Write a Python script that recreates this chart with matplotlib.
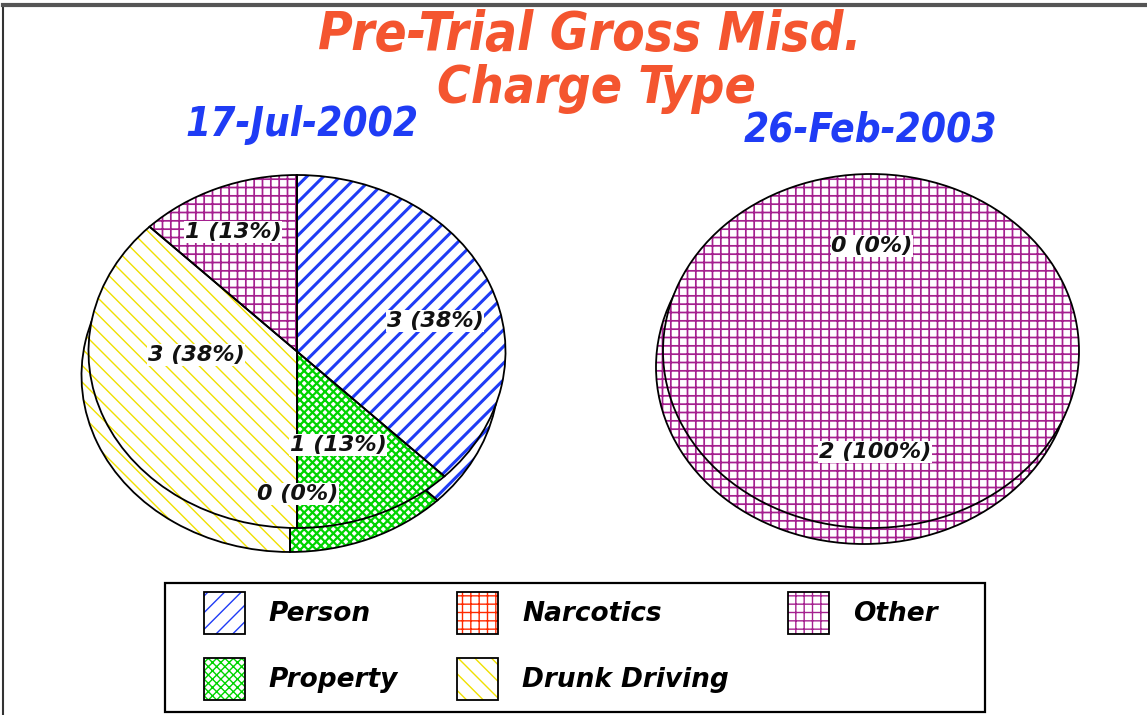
import matplotlib
matplotlib.use('Agg')
import matplotlib.pyplot as plt
from matplotlib.patches import Patch, Rectangle
from matplotlib.lines import Line2D
from matplotlib import font_manager
from matplotlib.font_manager import FontProperties

W, H = 1147, 715

# ---------------- data ----------------
title_lines = ['Pre-Trial Gross Misd.', 'Charge Type']
dates = ['17-Jul-2002', '26-Feb-2003']
categories = ['Person', 'Property', 'Narcotics', 'Drunk Driving', 'Other']
counts_2002 = [3, 1, 0, 3, 1]
counts_2003 = [0, 0, 0, 0, 2]

# ---------------- style ----------------
colors = ['#1f3cf5', '#00d400', '#ff2a00', '#f0e000', '#a5208f']
hatches = ['//', 'xxxx', '++', '\\\\', '++']
hatch_lws = [2.2, 1.6, 2.2, 1.0, 1.25]

names = {f.name for f in font_manager.fontManager.ttflist}
if 'Liberation Sans Narrow' in names:
    cond = dict(family='Liberation Sans Narrow', stretch='normal')
else:
    cond = dict(family='DejaVu Sans', stretch='condensed')

fig = plt.figure(figsize=(W / 100, H / 100), dpi=100)


def fx(px):
    return px / W


def fy(py):
    return 1 - py / H


def set_hlw(p, lw):
    if hasattr(p, 'set_hatch_linewidth'):
        p.set_hatch_linewidth(lw)


def draw_pie(cx, cy, rx, ry, dx, dy, values, label_px):
    hw, hh = 250, 240
    ax = fig.add_axes([fx(cx - hw), fy(cy + hh), 2 * hw / W, 2 * hh / H])
    for (ox, oy) in [(dx / rx, -dy / ry), (0.0, 0.0)]:
        wedges, _ = ax.pie(values, startangle=90, counterclock=False,
                           center=(ox, oy), radius=1.0)
        for w, c, h, lw, v in zip(wedges, colors, hatches, hatch_lws, values):
            w.set_facecolor('white')
            w.set_edgecolor(c)
            w.set_hatch(h)
            w.set_linewidth(0)
            set_hlw(w, lw)
            w.set_visible(v > 0)
        outl, _ = ax.pie(values, startangle=90, counterclock=False,
                         center=(ox, oy), radius=1.0,
                         wedgeprops=dict(fill=False, edgecolor='black',
                                         linewidth=1.3))
        for w, v in zip(outl, values):
            w.set_visible(v > 0)
    total = sum(values)
    for v, (px, py) in zip(values, label_px):
        pct = int(100 * v / total + 0.5)
        ax.text((px - cx) / rx, (cy - py) / ry, f'{v} ({pct}%)',
                ha='center', va='center', fontsize=16, fontweight='bold',
                fontstyle='italic', family='DejaVu Sans', color='#111111',
                bbox=dict(facecolor='white', edgecolor='none', pad=0.5),
                zorder=10)
    ax.set_aspect('auto')
    ax.set_xlim(-hw / rx, hw / rx)
    ax.set_ylim(-hh / ry, hh / ry)
    ax.axis('off')


labels_2002_px = [(435, 321), (338, 445), (298, 494), (196, 355), (233, 232)]
labels_2003_px = [(872, 246), (872, 246), (872, 246), (872, 246), (875, 452)]

draw_pie(297, 351.5, 208.5, 176.5, -7, 24, counts_2002, labels_2002_px)
draw_pie(871, 351, 208, 177, -7, 16, counts_2003, labels_2003_px)

# ---------------- titles ----------------
title_color = '#f4552f'
fig.text(fx(590), fy(50), title_lines[0], ha='center', va='baseline',
         fontsize=38, fontweight='bold', fontstyle='italic', color=title_color, **cond)
fig.text(fx(596), fy(103), title_lines[1], ha='center', va='baseline',
         fontsize=37, fontweight='bold', fontstyle='italic', color=title_color, **cond)
date_color = '#1f3cf5'
fig.text(fx(302), fy(136), dates[0], ha='center', va='baseline', fontsize=29,
         fontweight='bold', fontstyle='italic', color=date_color, **cond)
fig.text(fx(871), fy(142), dates[1], ha='center', va='baseline', fontsize=29,
         fontweight='bold', fontstyle='italic', color=date_color, **cond)

# ---------------- legend ----------------
fig.add_artist(Rectangle((fx(165), fy(712)), (985 - 165) / W, (712 - 583) / H,
                         transform=fig.transFigure, fill=False,
                         edgecolor='black', linewidth=1.6))
handles = []
for c, h, lw in zip(colors, hatches, hatch_lws):
    p1 = Patch(facecolor='white', edgecolor=c, hatch=h, linewidth=0)
    set_hlw(p1, lw)
    p2 = Patch(fill=False, edgecolor='black', linewidth=1.3)
    handles.append((p1, p2))
fig.legend(handles, categories, ncol=3, loc='upper left',
           bbox_to_anchor=(fx(196), fy(584)), frameon=False,
           prop=FontProperties(family='DejaVu Sans', weight='bold',
                               style='italic', size=19),
           handlelength=1.55, handleheight=2.07, handletextpad=0.9,
           columnspacing=2.25, labelspacing=0.9, borderpad=0.3,
           borderaxespad=0)

# ---------------- outer border ----------------
fig.add_artist(Line2D([fx(3), fx(3)], [0, fy(5)], transform=fig.transFigure,
                      color='#333333', linewidth=1.5))
fig.add_artist(Line2D([fx(3), 1], [fy(5), fy(5)], transform=fig.transFigure,
                      color='#555555', linewidth=3))

fig.savefig('out.png', dpi=100, facecolor='white')
